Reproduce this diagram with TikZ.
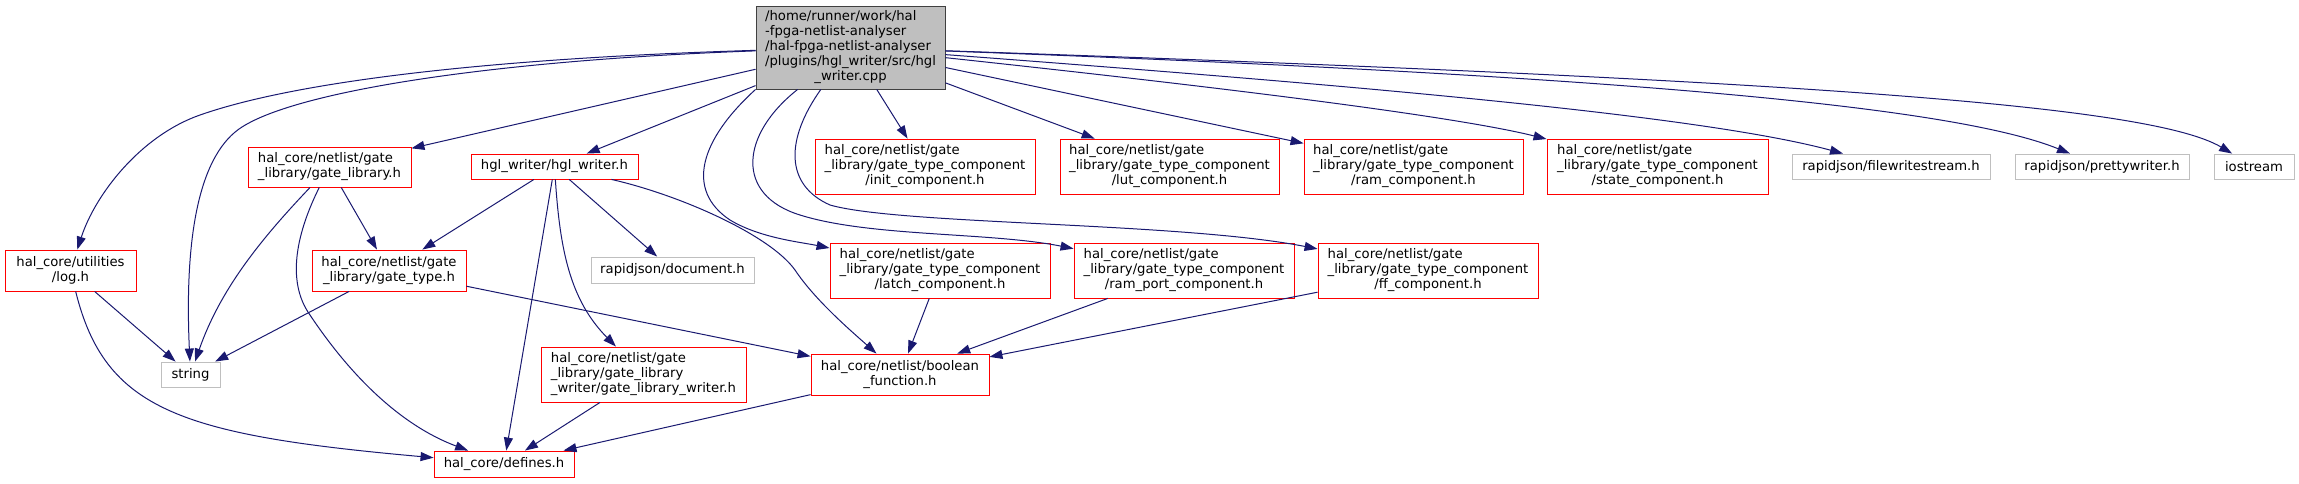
\documentclass[tikz,border=0pt]{standalone}
\usepackage{fontspec}
\setmainfont{DejaVu Sans}
\usetikzlibrary{arrows.meta}
\definecolor{edgec}{HTML}{191970}
\definecolor{grayb}{HTML}{BFBFBF}
\definecolor{mainb}{HTML}{404040}
\definecolor{redb}{HTML}{FF0000}
\newcommand{\lbl}[2]{\begin{tabular}{@{}l@{}}#1\multicolumn{1}{@{}c@{}}{#2}\end{tabular}}
\tikzset{
  box/.style={draw=redb, fill=white, line width=0.9pt, inner sep=0pt, text=black,
    font=\fontsize{13.2}{15}\selectfont},
  ext/.style={box, draw=grayb},
  mainbox/.style={box, draw=mainb, fill=grayb},
  edge/.style={draw=edgec, line width=1pt, -{Triangle[length=13pt,width=9pt]}}
}
\begin{document}
\begin{tikzpicture}[x=1pt,y=-1pt]
\useasboundingbox (0,0) rectangle (2299,483);
% nodes
\node[mainbox, minimum width=189pt, minimum height=83pt] (main) at (850.5,47.5)
  {\lbl{/home/runner/work/hal\\ -fpga-netlist-analyser\\ /hal-fpga-netlist-analyser\\ /plugins/hgl\_writer/src/hgl\\}{\_writer.cpp}};
\node[box, minimum width=163pt, minimum height=40pt] (glib) at (329.5,167)
  {\lbl{hal\_core/netlist/gate\\}{\_library/gate\_library.h}};
\node[box, minimum width=167pt, minimum height=25pt] (hgl) at (554.5,166.5) {hgl\_writer/hgl\_writer.h};
\node[box, minimum width=131pt, minimum height=41pt] (log) at (70.5,270.5)
  {\lbl{hal\_core/utilities\\}{/log.h}};
\node[box, minimum width=154pt, minimum height=41pt] (gtype) at (389,270.5)
  {\lbl{hal\_core/netlist/gate\\}{\_library/gate\_type.h}};
\node[ext, minimum width=163pt, minimum height=26pt] (doc) at (672.5,270) {rapidjson/document.h};
\node[ext, minimum width=59pt, minimum height=25pt] (string) at (190.5,374.5) {string};
\node[box, minimum width=205pt, minimum height=55pt] (glw) at (643.5,374.5)
  {\lbl{hal\_core/netlist/gate\\ \_library/gate\_library\\}{\_writer/gate\_library\_writer.h}};
\node[box, minimum width=140pt, minimum height=26pt] (defines) at (504,464) {hal\_core/defines.h};
\node[box, minimum width=220pt, minimum height=55pt] (init) at (925,166.5)
  {\lbl{hal\_core/netlist/gate\\ \_library/gate\_type\_component\\}{/init\_component.h}};
\node[box, minimum width=219pt, minimum height=55pt] (lut) at (1169.5,166.5)
  {\lbl{hal\_core/netlist/gate\\ \_library/gate\_type\_component\\}{/lut\_component.h}};
\node[box, minimum width=219pt, minimum height=55pt] (ram) at (1413.5,166.5)
  {\lbl{hal\_core/netlist/gate\\ \_library/gate\_type\_component\\}{/ram\_component.h}};
\node[box, minimum width=221pt, minimum height=55pt] (state) at (1657.5,166.5)
  {\lbl{hal\_core/netlist/gate\\ \_library/gate\_type\_component\\}{/state\_component.h}};
\node[ext, minimum width=198pt, minimum height=25pt] (fws) at (1891,166.5) {rapidjson/filewritestream.h};
\node[ext, minimum width=174pt, minimum height=25pt] (pw) at (2102,166.5) {rapidjson/prettywriter.h};
\node[ext, minimum width=80pt, minimum height=25pt] (ios) at (2254,166.5) {iostream};
\node[box, minimum width=220pt, minimum height=55pt] (latch) at (940,270.5)
  {\lbl{hal\_core/netlist/gate\\ \_library/gate\_type\_component\\}{/latch\_component.h}};
\node[box, minimum width=220pt, minimum height=55pt] (ramport) at (1184,270.5)
  {\lbl{hal\_core/netlist/gate\\ \_library/gate\_type\_component\\}{/ram\_port\_component.h}};
\node[box, minimum width=220pt, minimum height=55pt] (ff) at (1428,270.5)
  {\lbl{hal\_core/netlist/gate\\ \_library/gate\_type\_component\\}{/ff\_component.h}};
\node[box, minimum width=178pt, minimum height=41pt] (bool) at (900,374.5)
  {\lbl{hal\_core/netlist/boolean\\}{\_function.h}};
% edges from main
\draw[edge] (main) .. controls (500,58) and (300,80) .. (200,115) .. controls (140,136) and (95,195) .. (log);
\draw[edge] (main) .. controls (500,60) and (300,90) .. (242,127) .. controls (201,153) and (184,230) .. (string);
\draw[edge] (main) -- (glib);
\draw[edge] (main) -- (hgl);
\draw[edge] (main.south west) .. controls (700,140) and (685,190) .. (730,220) .. controls (760,238) and (800,242) .. (latch);
\draw[edge] (main) .. controls (740,135) and (735,195) .. (800,215) .. controls (870,237) and (990,232) .. (ramport);
\draw[edge] (main) .. controls (785,140) and (785,185) .. (830,205) .. controls (900,225) and (1180,222) .. (ff);
\draw[edge] (main) -- (init);
\draw[edge] (main) -- (lut);
\draw[edge] (main) -- (ram);
\draw[edge] (main) .. controls (1200,85) and (1450,115) .. (state);
\draw[edge] (main) .. controls (1350,85) and (1700,115) .. (fws);
\draw[edge] (main) .. controls (1600,75) and (1950,105) .. (pw);
\draw[edge] (main) .. controls (1800,80) and (2150,105) .. (ios);
% other edges
\draw[edge] (glib) .. controls (260,240) and (220,290) .. (string);
\draw[edge] (glib) .. controls (298,230) and (285,280) .. (310,315) .. controls (350,375) and (400,425) .. (defines);
\draw[edge] (glib) -- (gtype);
\draw[edge] (hgl) -- (gtype);
\draw[edge] (hgl) -- (defines);
\draw[edge] (hgl) .. controls (560,250) and (570,300) .. (glw);
\draw[edge] (hgl) -- (doc);
\draw[edge] (hgl) .. controls (680,195) and (770,235) .. (795,270) .. controls (815,300) and (850,330) .. (bool);
\draw[edge] (log) -- (string);
\draw[edge] (log) .. controls (105,410) and (180,435) .. (defines);
\draw[edge] (gtype) -- (string);
\draw[edge] (gtype) -- (bool);
\draw[edge] (glw) -- (defines);
\draw[edge] (latch) -- (bool);
\draw[edge] (ramport) -- (bool);
\draw[edge] (ff) -- (bool);
\draw[edge] (bool) -- (defines);
\end{tikzpicture}
\end{document}
